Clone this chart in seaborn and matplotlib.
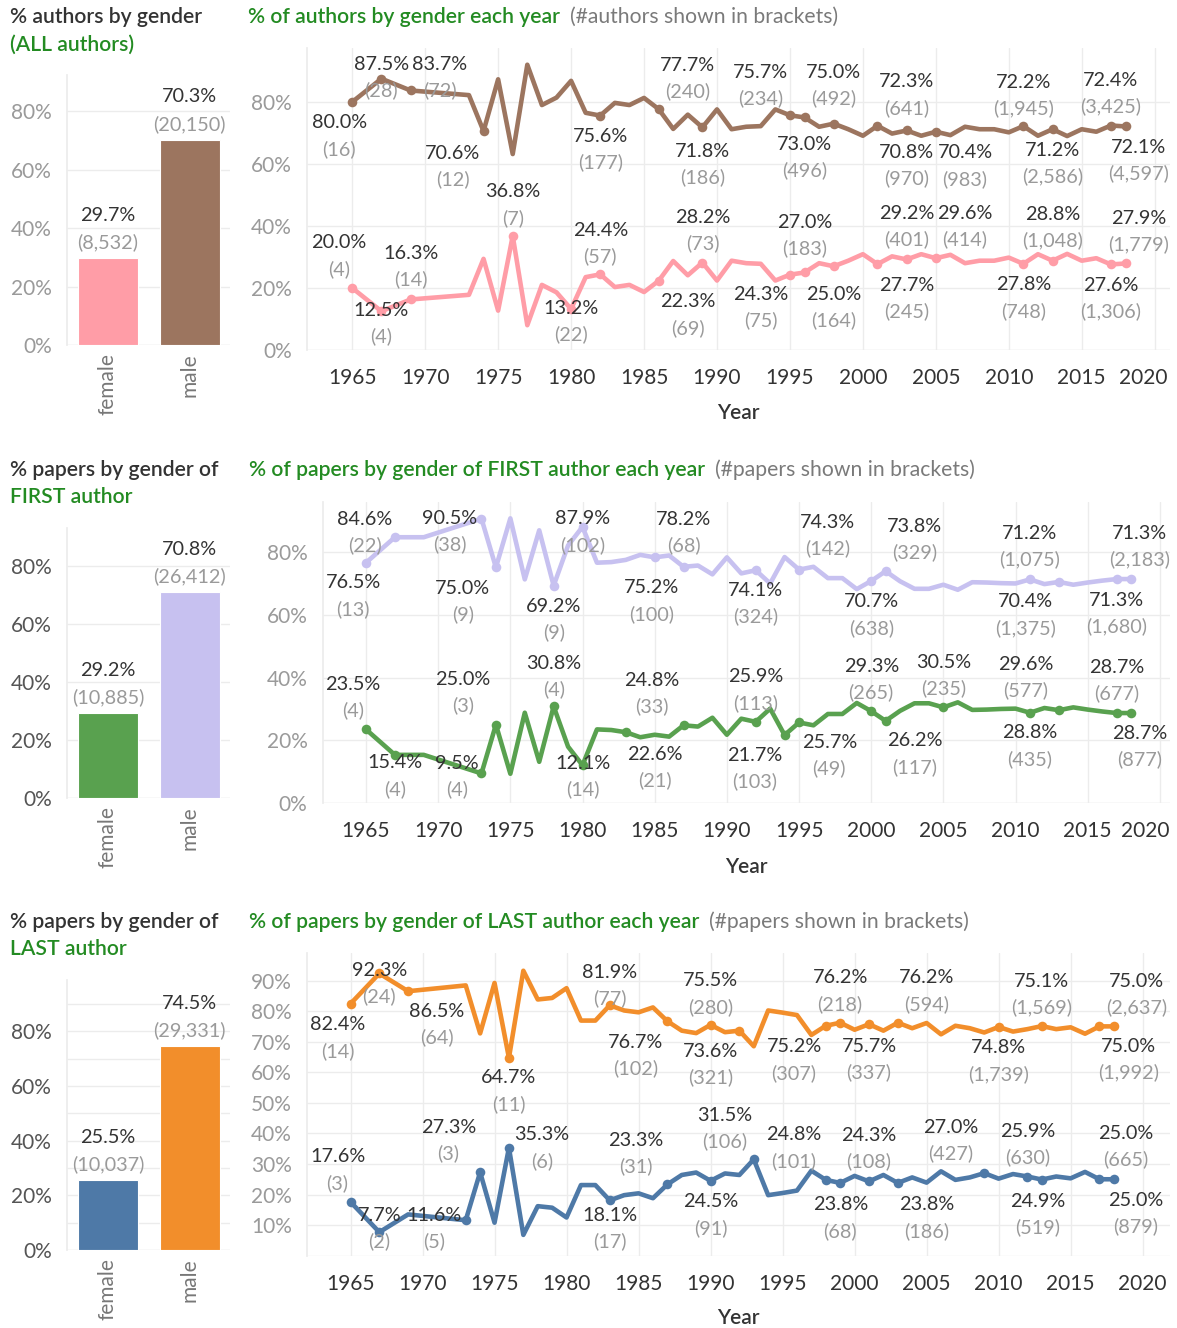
import matplotlib
matplotlib.use("Agg")
import matplotlib.pyplot as plt
import numpy as np
import pandas as pd
import seaborn as sns
from matplotlib.ticker import FuncFormatter

# ------------------------------------------------------------------ data
years = [1965, 1967, 1969,
         1973, 1974, 1975, 1976, 1977, 1978, 1979, 1980, 1981, 1982,
         1983, 1984, 1985, 1986, 1987, 1988, 1989, 1990, 1991, 1992,
         1993, 1994, 1995, 1996, 1997, 1998, 1999, 2000, 2001, 2002,
         2003, 2004, 2005, 2006, 2007, 2008, 2009, 2010, 2011, 2012,
         2013, 2014, 2015, 2016, 2017, 2018]

genders = ["female", "male"]
year_ticks = [1965, 1970, 1975, 1980, 1985, 1990, 1995, 2000, 2005, 2010, 2015, 2020]

# --- ALL authors
all_male = [80.0, 87.5, 83.7,
            82.2, 70.6, 87.3, 63.2, 92.0, 79.0, 81.4, 86.8, 76.5, 75.6,
            79.7, 79.0, 81.3, 77.7, 71.3, 75.9, 71.8, 77.6, 71.2, 72.0,
            72.2, 77.6, 75.7, 75.0, 72.0, 73.0, 71.2, 69.1, 72.3, 69.8,
            70.8, 69.1, 70.4, 69.3, 72.0, 71.2, 71.2, 70.2, 72.2, 69.1,
            71.2, 69.0, 71.2, 70.4, 72.4, 72.1]
all_female = [20.0, 12.5, 16.3,
              17.8, 29.4, 12.7, 36.8, 8.0, 21.0, 18.6, 13.2, 23.5, 24.4,
              20.3, 21.0, 18.7, 22.3, 28.7, 24.1, 28.2, 22.4, 28.8, 28.0,
              27.8, 22.4, 24.3, 25.0, 28.0, 27.0, 28.8, 30.9, 27.7, 30.2,
              29.2, 30.9, 29.6, 30.7, 28.0, 28.8, 28.8, 29.8, 27.8, 30.9,
              28.8, 31.0, 28.8, 29.6, 27.6, 27.9]
all_bar_pct = [29.7, 70.3]
all_bar_n = ["8,532", "20,150"]

all_male_lab_years = [1965, 1967, 1969, 1974, 1982, 1986, 1989, 1995, 1996, 1998,
                      2001, 2003, 2005, 2011, 2013, 2017, 2018]
all_male_lab_n = ["16", "28", "72", "12", "177", "240", "186", "234", "492", "496",
                  "641", "970", "983", "1,945", "2,586", "3,425", "4,597"]
all_female_lab_years = [1965, 1967, 1969, 1976, 1980, 1982, 1986, 1989, 1995, 1996,
                        1998, 2001, 2003, 2005, 2011, 2013, 2017, 2018]
all_female_lab_n = ["4", "4", "14", "7", "22", "57", "69", "73", "75", "164",
                    "183", "245", "401", "414", "748", "1,048", "1,306", "1,779"]

# --- FIRST author
first_male = [76.5, 84.6, 84.6,
              90.5, 75.0, 90.6, 71.2, 86.8, 69.2, 82.0, 87.9, 76.5, 76.7,
              77.4, 79.0, 78.2, 78.8, 75.2, 75.6, 72.8, 78.2, 73.1, 74.1,
              69.9, 78.3, 74.3, 75.2, 71.6, 71.6, 68.1, 70.7, 73.8, 70.6,
              68.2, 68.2, 69.5, 67.9, 70.3, 70.2, 70.0, 69.9, 71.2, 69.7,
              70.4, 69.5, 70.2, 70.8, 71.3, 71.3]
first_female = [23.5, 15.4, 15.4,
                9.5, 25.0, 9.4, 28.8, 13.2, 30.8, 18.0, 12.1, 23.5, 23.3,
                22.6, 21.0, 21.8, 21.2, 24.8, 24.4, 27.2, 21.8, 26.9, 25.9,
                30.1, 21.7, 25.7, 24.8, 28.4, 28.4, 31.9, 29.3, 26.2, 29.4,
                31.8, 31.8, 30.5, 32.1, 29.7, 29.8, 30.0, 30.1, 28.8, 30.3,
                29.6, 30.5, 29.8, 29.2, 28.7, 28.7]
first_bar_pct = [29.2, 70.8]
first_bar_n = ["10,885", "26,412"]

first_male_lab_years = [1965, 1967, 1973, 1974, 1978, 1980, 1985, 1987, 1992, 1995,
                        2000, 2001, 2011, 2013, 2017, 2018]
first_male_lab_n = ["13", "22", "38", "9", "9", "102", "68", "100", "324", "142",
                    "638", "329", "1,075", "1,375", "1,680", "2,183"]
first_female_lab_years = [1965, 1967, 1973, 1974, 1978, 1980, 1983, 1987, 1992, 1994,
                          1995, 2000, 2001, 2005, 2011, 2013, 2017, 2018]
first_female_lab_n = ["4", "4", "4", "3", "4", "14", "21", "33", "113", "103",
                      "49", "265", "117", "235", "435", "577", "677", "877"]

# --- LAST author
last_male = [82.4, 92.3, 86.5,
             88.4, 72.7, 89.2, 64.7, 93.2, 83.8, 84.3, 87.5, 76.9, 76.9,
             81.9, 80.2, 79.6, 81.2, 76.7, 73.6, 72.8, 75.5, 73.1, 73.6,
             68.5, 80.2, 79.5, 78.7, 72.2, 75.2, 76.2, 73.9, 75.7, 73.6,
             76.2, 74.4, 76.1, 72.4, 75.2, 74.4, 73.0, 74.8, 73.3, 74.1,
             75.1, 74.1, 74.7, 72.6, 75.0, 75.0]
last_female = [17.6, 7.7, 13.5,
               11.6, 27.3, 10.8, 35.3, 6.8, 16.2, 15.7, 12.5, 23.1, 23.1,
               18.1, 19.8, 20.4, 18.8, 23.3, 26.4, 27.2, 24.5, 26.9, 26.4,
               31.5, 19.8, 20.5, 21.3, 27.8, 24.8, 23.8, 26.1, 24.3, 26.4,
               23.8, 25.6, 23.9, 27.6, 24.8, 25.6, 27.0, 25.2, 26.7, 25.9,
               24.9, 25.9, 25.3, 27.4, 25.0, 25.0]
last_bar_pct = [25.5, 74.5]
last_bar_n = ["10,037", "29,331"]

last_male_lab_years = [1965, 1967, 1969, 1976, 1983, 1987, 1990, 1992, 1998, 1999,
                       2001, 2003, 2010, 2013, 2017, 2018]
last_male_lab_n = ["14", "24", "64", "11", "77", "102", "280", "321", "307", "218",
                   "337", "594", "1,739", "1,569", "1,992", "2,637"]
last_female_lab_years = [1965, 1967, 1973, 1974, 1976, 1983, 1987, 1990, 1993, 1998,
                         1999, 2001, 2003, 2009, 2012, 2013, 2017, 2018]
last_female_lab_n = ["3", "2", "5", "3", "6", "17", "31", "91", "106", "101",
                     "68", "108", "186", "427", "630", "519", "665", "879"]

# ------------------------------------------------------------------ label layout (styling)
# horizontal shift in years, vertical offset (px, + = down) of the % text centre
all_male_dx = [-0.9, 0, 2, -2.1, 0, 2, 0, -2, 2, -2, 2, 0, 2, 0, 0, 0, 0.9]
all_male_dy = [21, -14, -26, 22, 21, -44, 24, -43, -45, 21, -44, 22, 21, -44, 21, -45, 21]
all_female_dx = [-0.9, 0, 0, 0, 0, 0, 2, 0, -2, 2, -2, 2, 0, 2, 0, 0, 0, 0.9]
all_female_dy = [-45, -1, -46, -44, -1, -44, 21, -45, 20, 22, -44, 21, -46, -45, 21, -46, 21, -45]

first_male_dx = [-0.9, -2.1, -2.2, -2.3, 0, 0, 2, -2.2, 0, 2, 0, 2, 0, -2.3, 0, 0.6]
first_male_dy = [20, -18, 0, 21, 21, -8, -38, 21, 20, -47, 21, -45, -46, 20, 21, -46]
first_female_dx = [-0.9, 0, -1.7, -2.3, 0, 0, 2, -2.2, 0, -2.1, 2.1, 0, 2, 0, 0, -2.3, 0, 0.6]
first_female_dy = [-45, 8, -10, -45, -43, -2, 22, -45, -45, 20, 20, -45, 20, -45, 20, -46, -46, 20]

last_male_dx = [-0.9, 0, 2, 0, 0, -2.2, 0, -2, -2.2, 0, 0, 2, 0, 0, 2, 1.6]
last_male_dy = [21, -3, 20, 20, -33, 21, -44, 21, 21, -45, 22, -45, 21, -45, 20, -45]
last_female_dx = [-0.9, 0, -2.2, -2.2, 2.3, 0, -2.2, 0, -2, -2.2, 0, 0, 2, -2.3, 0, -0.3, 1.8, 1.5]
last_female_dy = [-45, -17, -5, -45, -13, 15, -44, 21, -44, -45, 22, -46, 22, -46, -45, 22, -46, 21]

# ------------------------------------------------------------------ style
sns.set_theme(style="white")
plt.rcParams['font.family'] = ['Lato', 'DejaVu Sans']

W, H = 1177, 1328
PX = 0.72  # points per pixel at dpi 100
GRID = "#ececec"
GREEN = "#238b22"
PCT_COL = "#333333"
N_COL = "#9a9a9a"
LAB_FS = 14.3
TICK_FS = 15
TITLE_FS = 15.2
X_TICK_LEN = 6
X_TICK_PAD = 7

fig = plt.figure(figsize=(W / 100, H / 100), dpi=100)
fig.patch.set_facecolor("white")


def px_axes(x0, y0, x1, y1):
    return fig.add_axes([x0 / W, 1 - y1 / H, (x1 - x0) / W, (y1 - y0) / H])


def pct_fmt(v, _):
    return f"{int(round(v))}%"


def draw_bars(box, pct, ns, colors, ylim, major, minor, tick_col):
    ax = px_axes(*box)
    df = pd.DataFrame({"gender": genders, "pct": pct})
    sns.barplot(data=df, x="gender", y="pct", hue="gender",
                palette=dict(zip(genders, colors)), width=0.74, saturation=1,
                edgecolor="white", linewidth=0.8, legend=False, ax=ax)
    ax.set_xlim(-0.5, 1.49)
    ax.set_ylim(*ylim)
    ax.set_yticks(major)
    ax.set_yticks(minor, minor=True)
    ax.yaxis.set_major_formatter(FuncFormatter(pct_fmt))
    ax.grid(True, axis="y", which="both", color=GRID, lw=1)
    ax.set_axisbelow(True)
    for s in ["top", "right", "bottom"]:
        ax.spines[s].set_visible(False)
    ax.spines["left"].set_color(GRID)
    ax.axhline(0, color=GRID, lw=1, zorder=0)
    ax.tick_params(axis="y", which="both", length=0, pad=11, labelsize=TICK_FS, labelcolor=tick_col)
    ax.tick_params(axis="x", length=0, pad=6, labelsize=TICK_FS, labelcolor="#777777", rotation=90)
    ax.set_xlabel("")
    ax.set_ylabel("")
    for i, (p, n) in enumerate(zip(pct, ns)):
        ax.annotate(f"{p:.1f}%", xy=(i, p), xytext=(0, 43 * PX), textcoords="offset points",
                    ha="center", va="center", fontsize=LAB_FS, color=PCT_COL)
        ax.annotate(f"({n})", xy=(i, p), xytext=(0, 16 * PX), textcoords="offset points",
                    ha="center", va="center", fontsize=LAB_FS, color=N_COL)
    return ax


def draw_lines(box, male, female, mcol, fcol, xlim, ylim, yticks, labels, last_shift):
    ax = px_axes(*box)
    n = len(years)
    df = pd.DataFrame({"year": years + years, "pct": male + female,
                       "gender": ["male"] * n + ["female"] * n})
    pal = {"male": mcol, "female": fcol}
    sns.lineplot(data=df, x="year", y="pct", hue="gender", palette=pal, lw=3.3,
                 legend=False, sort=True, ax=ax)
    ax.set_xlim(*xlim)
    ax.set_ylim(*ylim)
    ax.set_xticks(year_ticks)
    # the right-most year label is nudged inwards (as in the reference)
    ax.set_xticklabels([str(y) for y in year_ticks[:-1]] + [""])
    ax.annotate(str(year_ticks[-1]), xy=(year_ticks[-1], 0), xycoords=("data", "axes fraction"),
                xytext=(-last_shift * PX, -(X_TICK_LEN + X_TICK_PAD)), textcoords="offset points",
                ha="center", va="top", fontsize=TICK_FS, color="#333333",
                annotation_clip=False)
    ax.set_yticks(yticks)
    ax.yaxis.set_major_formatter(FuncFormatter(pct_fmt))
    ax.grid(True, color=GRID, lw=1)
    ax.set_axisbelow(True)
    for s in ["top", "right", "bottom"]:
        ax.spines[s].set_visible(False)
    ax.spines["left"].set_color(GRID)
    ax.axhline(0, color=GRID, lw=1, zorder=0)
    ax.tick_params(axis="y", length=0, pad=11, labelsize=TICK_FS, labelcolor="#9a9a9a")
    ax.tick_params(axis="x", length=X_TICK_LEN, width=1, color=GRID, pad=X_TICK_PAD,
                   labelsize=TICK_FS, labelcolor="#333333")
    ax.set_xlabel("")
    ax.set_ylabel("")

    for gender, series, col, (lyears, lns, ldx, ldy) in labels:
        vals = dict(zip(years, series))
        pts = pd.DataFrame({"year": lyears, "pct": [vals[y] for y in lyears]})
        sns.scatterplot(data=pts, x="year", y="pct", color=col, s=48, linewidth=0,
                        legend=False, ax=ax, zorder=4)
        for y, nn, dx, dy in zip(lyears, lns, ldx, ldy):
            v = vals[y]
            ax.annotate(f"{v:.1f}%", xy=(y + dx, v), xytext=(0, -dy * PX),
                        textcoords="offset points", ha="center", va="center",
                        fontsize=LAB_FS, color=PCT_COL, zorder=5, annotation_clip=False)
            ax.annotate(f"({nn})", xy=(y + dx, v), xytext=(0, -(dy + 26) * PX),
                        textcoords="offset points", ha="center", va="center",
                        fontsize=LAB_FS, color=N_COL, zorder=5, annotation_clip=False)
    ax.set_xlabel("")
    ax.set_ylabel("")
    return ax


# ------------------------------------------------------------------ row 1: ALL authors
draw_bars((67, 75, 230, 345), all_bar_pct, all_bar_n, ["#FF9DA7", "#9C755F"],
          (0, 92.5), [0, 20, 40, 60, 80], [], "#9a9a9a")
draw_lines((307, 48, 1170, 350), all_male, all_female, "#9C755F", "#FF9DA7",
           (1961.9, 2021.05), (0, 97.4), [0, 20, 40, 60, 80],
           [("male", all_male, "#9C755F", (all_male_lab_years, all_male_lab_n, all_male_dx, all_male_dy)),
            ("female", all_female, "#FF9DA7", (all_female_lab_years, all_female_lab_n, all_female_dx, all_female_dy))],
           11)

# ------------------------------------------------------------------ row 2: FIRST author
draw_bars((67, 528, 230, 798), first_bar_pct, first_bar_n, ["#59A14F", "#C7C1F0"],
          (0, 93), [0, 20, 40, 60, 80], [], "#555555")
draw_lines((322.7, 501.7, 1170, 803.3), first_male, first_female, "#C7C1F0", "#59A14F",
           (1962.0, 2020.7), (0, 95.9), [0, 20, 40, 60, 80],
           [("male", first_male, "#C7C1F0", (first_male_lab_years, first_male_lab_n, first_male_dx, first_male_dy)),
            ("female", first_female, "#59A14F", (first_female_lab_years, first_female_lab_n, first_female_dx, first_female_dy))],
           15)

# ------------------------------------------------------------------ row 3: LAST author
draw_bars((67, 980, 230, 1250), last_bar_pct, last_bar_n, ["#4E79A7", "#F28E2B"],
          (0, 98.8), [0, 20, 40, 60, 80], [10, 30, 50, 70, 90], "#555555")
draw_lines((307.3, 953, 1170, 1255.7), last_male, last_female, "#F28E2B", "#4E79A7",
           (1962.0, 2021.9), (0, 99), [10, 20, 30, 40, 50, 60, 70, 80, 90],
           [("male", last_male, "#F28E2B", (last_male_lab_years, last_male_lab_n, last_male_dx, last_male_dy)),
            ("female", last_female, "#4E79A7", (last_female_lab_years, last_female_lab_n, last_female_dx, last_female_dy))],
           0)

# ------------------------------------------------------------------ titles
def ftext(x, y, s, **kw):
    return fig.text(x / W, 1 - y / H, s, ha="left", va="center", **kw)


ftext(10, 17, "% authors by gender", fontsize=TITLE_FS, fontweight="semibold", color="#333333")
ftext(10, 45, "(ALL authors)", fontsize=TITLE_FS, fontweight="semibold", color=GREEN)
ftext(10, 470, "% papers by gender of", fontsize=TITLE_FS, fontweight="semibold", color="#333333")
ftext(10, 497, "FIRST author", fontsize=TITLE_FS, fontweight="semibold", color=GREEN)
ftext(10, 922, "% papers by gender of", fontsize=TITLE_FS, fontweight="semibold", color="#333333")
ftext(10, 949, "LAST author", fontsize=TITLE_FS, fontweight="semibold", color=GREEN)

right_titles = [
    (248, 17, "% of authors by gender each year", "(#authors shown in brackets)"),
    (249, 470, "% of papers by gender of FIRST author each year", "(#papers shown in brackets)"),
    (249, 922, "% of papers by gender of LAST author each year", "(#papers shown in brackets)"),
]
fig.canvas.draw()
renderer = fig.canvas.get_renderer()
for x, y, main, sub in right_titles:
    t = ftext(x, y, main, fontsize=TITLE_FS, fontweight="semibold", color=GREEN)
    bb = t.get_window_extent(renderer=renderer)
    fig.text((bb.x1 + 10) / W, 1 - y / H, sub, ha="left", va="center",
             fontsize=TITLE_FS, color="#7a7a7a")

for xc, y in [(738, 413), (746, 867), (738, 1318)]:
    fig.text(xc / W, 1 - y / H, "Year", ha="center", va="center",
             fontsize=TICK_FS, fontweight="semibold", color="#333333")

fig.savefig("out.png", dpi=100, facecolor="white")
